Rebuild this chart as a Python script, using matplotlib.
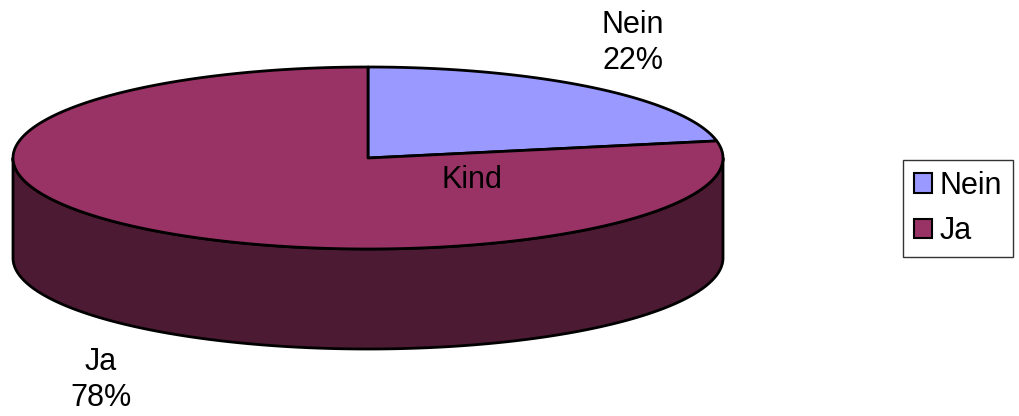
import numpy as np
import matplotlib
matplotlib.use("Agg")
import matplotlib.pyplot as plt
from matplotlib.patches import Polygon, Patch

plt.rcParams['font.family'] = ['Liberation Sans', 'DejaVu Sans']

categories = ["Nein", "Ja"]
values = [22, 78]
colors_top = ["#9999FF", "#993366"]
colors_side = ["#4D4D80", "#4D1A33"]
title = "Kind"

W, H = 1019, 416
fig = plt.figure(figsize=(W / 100, H / 100), dpi=100)
ax = fig.add_axes([0, 0, 1, 1])
ax.set_xlim(0, W)
ax.set_ylim(H, 0)
ax.axis('off')

cx, cy, rx, ry, depth = 368, 158, 355, 91, 100


def pt(theta_deg, dy=0.0):
    t = np.radians(theta_deg)
    return cx + rx * np.cos(t), cy - ry * np.sin(t) + dy


total = float(sum(values))
start = 90.0
ranges = []
for v in values:
    sweep = v / total * 360.0
    ranges.append((start, start - sweep))
    start -= sweep

lw = 2.0
# side walls (front half: angles -180..0)
for (a0, a1), col in zip(ranges, colors_side):
    for shift in (0, 360, -360):
        hi = min(a0 + shift, 0.0)
        lo = max(a1 + shift, -180.0)
        if hi > lo:
            th = np.linspace(hi, lo, 200)
            top = [pt(t) for t in th]
            bot = [pt(t, depth) for t in th[::-1]]
            poly = Polygon(top + bot, closed=True, facecolor=col,
                           edgecolor='black', linewidth=lw, joinstyle='round')
            ax.add_patch(poly)

# top faces
for (a0, a1), col in zip(ranges, colors_top):
    th = np.linspace(a0, a1, 300)
    pts = [(cx, cy)] + [pt(t) for t in th]
    ax.add_patch(Polygon(pts, closed=True, facecolor=col, edgecolor='black',
                         linewidth=lw, joinstyle='round'))

fs = 22
ax.text(633, 43, f"{categories[0]}\n{values[0]}%", ha='center', va='center',
        fontsize=fs, linespacing=1.25)
ax.text(101, 380, f"{categories[1]}\n{values[1]}%", ha='center', va='center',
        fontsize=fs, linespacing=1.25)
ax.text(472, 180, title, ha='center', va='center', fontsize=fs)

handles = [Patch(facecolor=c, edgecolor='black', linewidth=1.5) for c in colors_top]
leg = fig.legend(handles, categories, loc='upper left',
                 bbox_to_anchor=(903 / W, 1 - 160 / H), borderaxespad=0,
                 fontsize=fs, frameon=True, fancybox=False,
                 handlelength=0.6, handleheight=0.6, handletextpad=0.25,
                 borderpad=0.35, labelspacing=0.5)
leg.get_frame().set_edgecolor('black')
leg.get_frame().set_linewidth(1.0)

fig.savefig("out.png", dpi=100)
